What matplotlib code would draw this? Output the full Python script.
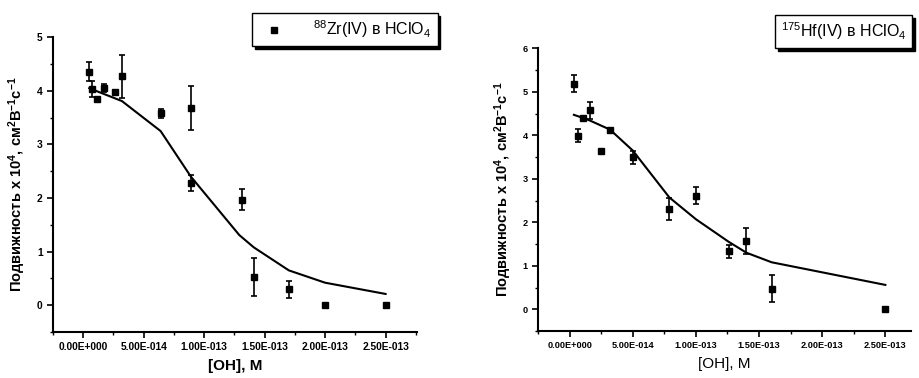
import matplotlib
matplotlib.use("Agg")
import matplotlib.pyplot as plt
from matplotlib.lines import Line2D
from matplotlib.ticker import MultipleLocator
import numpy as np

plt.rcParams['font.family'] = ['Liberation Sans', 'DejaVu Sans']
plt.rcParams['mathtext.default'] = 'regular'

# --- Zr(IV) data ---
zr_x = [5e-15, 7e-15, 1.1e-14, 1.7e-14, 2.6e-14, 3.2e-14, 6.4e-14, 8.9e-14, 8.95e-14,
        1.31e-13, 1.41e-13, 1.70e-13, 2.0e-13, 2.5e-13]
zr_y = [4.36, 4.04, 3.84, 4.05, 3.97, 4.27, 3.58, 3.68, 2.28, 1.97, 0.53, 0.30, 0.0, 0.0]
zr_err = [0.17, 0.15, 0.03, 0.07, 0.03, 0.40, 0.09, 0.41, 0.15, 0.20, 0.36, 0.16, 0.0, 0.0]
zr_fit_x = [5e-15, 3.2e-14, 6.4e-14, 8.9e-14, 1.29e-13, 1.41e-13, 1.70e-13, 2.0e-13, 2.5e-13]
zr_fit_y = [4.05, 3.81, 3.25, 2.40, 1.31, 1.08, 0.65, 0.42, 0.21]

# --- Hf(IV) data ---
hf_x = [3.4e-15, 6.3e-15, 1.04e-14, 1.6e-14, 2.5e-14, 3.2e-14, 5.0e-14, 7.9e-14, 1.0e-13,
        1.26e-13, 1.40e-13, 1.60e-13, 2.5e-13]
hf_y = [5.19, 3.99, 4.40, 4.57, 3.63, 4.11, 3.49, 2.30, 2.61, 1.33, 1.57, 0.47, 0.0]
hf_err = [0.19, 0.15, 0.03, 0.19, 0.03, 0.03, 0.15, 0.25, 0.20, 0.15, 0.30, 0.31, 0.0]
hf_fit_x = [3.4e-15, 1.04e-14, 1.6e-14, 3.2e-14, 5.0e-14, 7.9e-14, 1.0e-13, 1.26e-13,
            1.40e-13, 1.60e-13, 2.5e-13]
hf_fit_y = [4.47, 4.40, 4.34, 4.13, 3.65, 2.57, 2.07, 1.55, 1.30, 1.08, 0.56]

x_ticks = [0, 5e-14, 1e-13, 1.5e-13, 2e-13, 2.5e-13]
x_ticklabels = ["0.00E+000", "5.00E-014", "1.00E-013", "1.50E-013", "2.00E-013", "2.50E-013"]

ylabel = "Подвижность x 10$^4$, см$^2$В$^{-1}$с$^{-1}$"

fig = plt.figure(figsize=(9.2, 3.78), dpi=100)
ax1 = fig.add_axes([0.0576, 0.1217, 0.3957, 0.7796])
ax2 = fig.add_axes([0.5848, 0.1243, 0.405, 0.748])


def style(ax, ymin, ymax, xmax, fs):
    ax.set_xlim(-2.5e-14, xmax)
    ax.set_ylim(ymin, ymax)
    for s in ['top', 'right']:
        ax.spines[s].set_visible(False)
    for s in ['left', 'bottom']:
        ax.spines[s].set_linewidth(1.5)
    ax.set_xticks(x_ticks)
    ax.set_xticklabels(x_ticklabels, fontweight='bold')
    ax.xaxis.set_minor_locator(MultipleLocator(2.5e-14))
    ax.set_yticks(range(int(ymin + 0.5), int(ymax) + 1))
    ax.yaxis.set_minor_locator(MultipleLocator(0.5))
    ax.tick_params(which='major', direction='out', length=4, width=1.2, labelsize=fs)
    ax.tick_params(which='minor', direction='out', length=2, width=1.0)
    for lab in ax.get_yticklabels():
        lab.set_fontweight('bold')


ax1.errorbar(zr_x, zr_y, yerr=zr_err, fmt='s', color='black', ms=4.5,
             elinewidth=1.2, capsize=2.5, capthick=1.2)
ax1.plot(zr_fit_x, zr_fit_y, color='black', lw=1.5)
style(ax1, -0.5, 5, 2.76e-13, 7.4)
ax1.set_ylabel(ylabel, fontsize=10.5, fontweight='bold', labelpad=6)
ax1.set_xlabel("[OH], M", fontsize=11, fontweight='bold', labelpad=5)

ax2.errorbar(hf_x, hf_y, yerr=hf_err, fmt='s', color='black', ms=4.5,
             elinewidth=1.2, capsize=2.5, capthick=1.2)
ax2.plot(hf_fit_x, hf_fit_y, color='black', lw=1.5)
style(ax2, -0.5, 6, 2.7e-13, 6.6)
ax2.set_ylabel(ylabel, fontsize=10.5, fontweight='bold', labelpad=6)
ax2.set_xlabel("[OH], M", fontsize=11, labelpad=5)

h1 = Line2D([], [], marker='s', ls='none', color='black', ms=5)
leg1 = ax1.legend([h1], ["$^{88}$Zr(IV) в HClO$_4$"], loc='upper left',
                  bbox_to_anchor=(252 / 920, 1 - 13 / 378), bbox_transform=fig.transFigure,
                  fancybox=False, edgecolor='black', framealpha=1, fontsize=11.5,
                  shadow={'color': 'black', 'alpha': 1}, borderpad=0.35,
                  handletextpad=1.5, borderaxespad=0)
leg1.get_frame().set_linewidth(1.0)

h2 = Line2D([], [], ls='none')
leg2 = ax2.legend([h2], ["$^{175}$Hf(IV) в HClO$_4$"], loc='upper left',
                  bbox_to_anchor=(775 / 920, 1 - 15 / 378), bbox_transform=fig.transFigure,
                  fancybox=False, edgecolor='black', framealpha=1, fontsize=11.5,
                  shadow={'color': 'black', 'alpha': 1}, handlelength=0, handletextpad=0,
                  borderpad=0.35, borderaxespad=0)
leg2.get_frame().set_linewidth(1.0)

fig.savefig("out.png", dpi=100)
